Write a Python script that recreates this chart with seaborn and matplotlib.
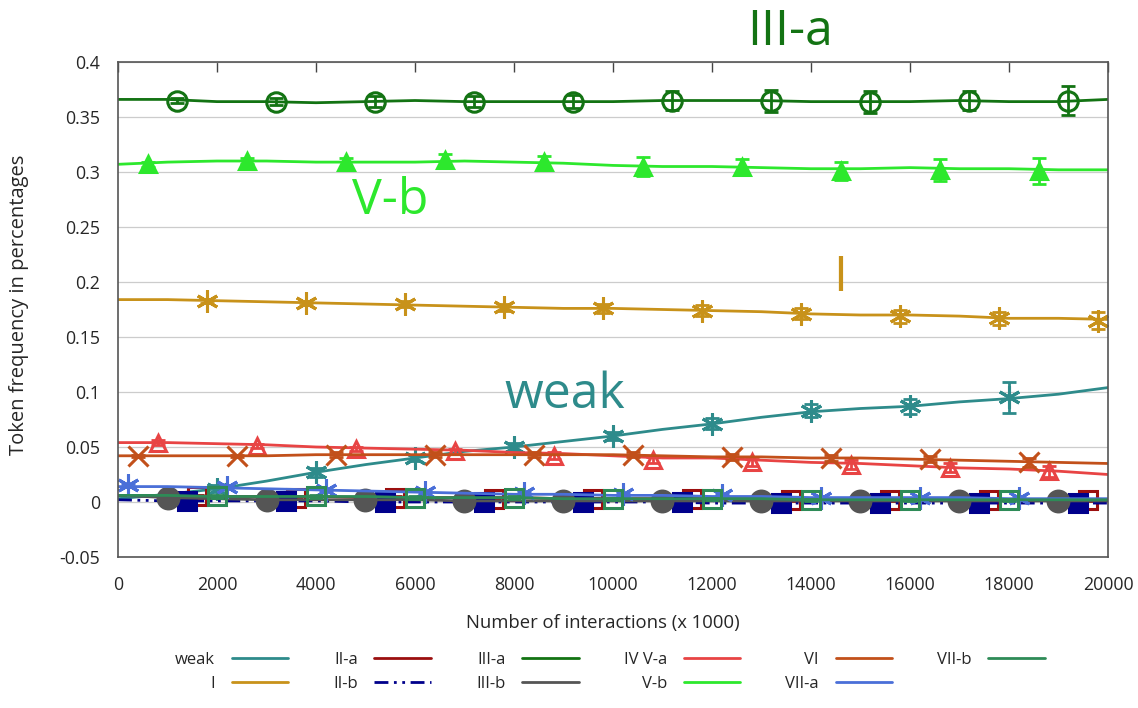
import matplotlib
matplotlib.use("Agg")
import matplotlib.pyplot as plt
from matplotlib.ticker import FuncFormatter, MultipleLocator
import numpy as np
import pandas as pd
import seaborn as sns

# x positions of the sampled curves (every 1000 interactions)
x_grid = list(range(0, 20001, 1000))

# --- curves (sampled) ---
weak_y = [0.003, 0.007, 0.012, 0.019, 0.027, 0.034, 0.040, 0.046, 0.050, 0.055, 0.060,
          0.066, 0.071, 0.077, 0.082, 0.085, 0.087, 0.091, 0.094, 0.098, 0.104]
I_y = [0.184, 0.184, 0.183, 0.182, 0.181, 0.180, 0.179, 0.178, 0.177, 0.176, 0.176,
       0.175, 0.174, 0.173, 0.171, 0.170, 0.170, 0.169, 0.167, 0.167, 0.166]
IIa_y = [0.006, 0.006, 0.005, 0.005, 0.005, 0.004, 0.004, 0.004, 0.004, 0.003, 0.003,
         0.003, 0.003, 0.003, 0.002, 0.002, 0.002, 0.002, 0.002, 0.002, 0.002]
IIb_y = [0.002, 0.001, 0.001, 0.001, 0.001, 0.000, 0.000, 0.000, 0.000, 0.000, 0.000,
         0.000, -0.001, -0.001, -0.001, -0.001, -0.001, -0.001, -0.001, -0.001, -0.001]
IIIa_y = [0.366, 0.366, 0.364, 0.364, 0.363, 0.364, 0.365, 0.364, 0.364, 0.364, 0.364,
          0.365, 0.365, 0.365, 0.364, 0.364, 0.364, 0.365, 0.364, 0.364, 0.366]
IIIb_y = [0.006, 0.004, 0.003, 0.002, 0.002, 0.002, 0.002, 0.001, 0.001, 0.001, 0.001,
          0.001, 0.001, 0.001, 0.001, 0.001, 0.001, 0.001, 0.001, 0.001, 0.001]
IVVa_y = [0.054, 0.054, 0.053, 0.052, 0.050, 0.049, 0.048, 0.047, 0.045, 0.044, 0.042,
          0.040, 0.040, 0.038, 0.036, 0.035, 0.033, 0.031, 0.030, 0.028, 0.025]
Vb_y = [0.307, 0.309, 0.310, 0.310, 0.309, 0.309, 0.309, 0.310, 0.309, 0.308, 0.306,
        0.305, 0.305, 0.304, 0.303, 0.303, 0.304, 0.303, 0.303, 0.302, 0.302]
VI_y = [0.042, 0.042, 0.042, 0.042, 0.043, 0.043, 0.043, 0.043, 0.043, 0.043, 0.043,
        0.042, 0.041, 0.041, 0.040, 0.040, 0.039, 0.038, 0.037, 0.036, 0.035]
VIIa_y = [0.014, 0.014, 0.013, 0.012, 0.011, 0.010, 0.009, 0.008, 0.007, 0.007, 0.006,
          0.006, 0.005, 0.005, 0.004, 0.004, 0.004, 0.004, 0.003, 0.003, 0.003]
VIIb_y = [0.006, 0.006, 0.005, 0.005, 0.005, 0.005, 0.004, 0.004, 0.004, 0.003, 0.003,
          0.003, 0.003, 0.003, 0.002, 0.002, 0.002, 0.002, 0.002, 0.002, 0.002]

# --- sampled points with error bars ---
weak_mx = [2000, 4000, 6000, 8000, 10000, 12000, 14000, 16000, 18000]
weak_my = [0.012, 0.027, 0.040, 0.050, 0.060, 0.071, 0.083, 0.087, 0.095]
weak_err = [0.003, 0.004, 0.003, 0.004, 0.004, 0.005, 0.006, 0.007, 0.014]

I_mx = [1800, 3800, 5800, 7800, 9800, 11800, 13800, 15800, 17800, 19800]
I_my = [0.183, 0.181, 0.180, 0.177, 0.176, 0.174, 0.171, 0.169, 0.167, 0.165]
I_err = [0.002, 0.002, 0.003, 0.003, 0.004, 0.005, 0.005, 0.006, 0.006, 0.008]

IIa_mx = [1600, 3600, 5600, 7600, 9600, 11600, 13600, 15600, 17600, 19600]
IIa_my = [0.005, 0.004, 0.004, 0.003, 0.003, 0.003, 0.002, 0.002, 0.002, 0.002]
IIa_err = [0.001] * 10

IIb_mx = [1400, 3400, 5400, 7400, 9400, 11400, 13400, 15400, 17400, 19400]
IIb_my = [0.001, 0.001, 0.000, 0.000, 0.000, 0.000, -0.001, -0.001, -0.001, -0.001]
IIb_err = [0.001] * 10

IIIa_mx = [1200, 3200, 5200, 7200, 9200, 11200, 13200, 15200, 17200, 19200]
IIIa_my = [0.365, 0.364, 0.364, 0.364, 0.364, 0.365, 0.365, 0.364, 0.365, 0.365]
IIIa_err = [0.002, 0.003, 0.005, 0.005, 0.006, 0.009, 0.010, 0.010, 0.009, 0.013]

IIIb_mx = [1000, 3000, 5000, 7000, 9000, 11000, 13000, 15000, 17000, 19000]
IIIb_my = [0.004, 0.002, 0.002, 0.001, 0.001, 0.001, 0.001, 0.001, 0.001, 0.001]
IIIb_err = [0.001] * 10

IVVa_mx = [800, 2800, 4800, 6800, 8800, 10800, 12800, 14800, 16800, 18800]
IVVa_my = [0.054, 0.051, 0.048, 0.046, 0.042, 0.038, 0.036, 0.034, 0.031, 0.028]
IVVa_err = [0.002, 0.002, 0.002, 0.002, 0.003, 0.003, 0.003, 0.004, 0.004, 0.005]

Vb_mx = [600, 2600, 4600, 6600, 8600, 10600, 12600, 14600, 16600, 18600]
Vb_my = [0.307, 0.310, 0.309, 0.311, 0.309, 0.305, 0.305, 0.301, 0.302, 0.301]
Vb_err = [0.002, 0.003, 0.004, 0.005, 0.006, 0.009, 0.007, 0.008, 0.010, 0.012]

VI_mx = [400, 2400, 4400, 6400, 8400, 10400, 12400, 14400, 16400, 18400]
VI_my = [0.042, 0.042, 0.043, 0.043, 0.043, 0.043, 0.041, 0.040, 0.039, 0.036]
VI_err = [0.001, 0.001, 0.002, 0.002, 0.002, 0.002, 0.003, 0.003, 0.003, 0.004]

VIIa_mx = [200, 2200, 4200, 6200, 8200, 10200, 12200, 14200, 16200, 18200]
VIIa_my = [0.015, 0.014, 0.011, 0.009, 0.008, 0.007, 0.006, 0.004, 0.004, 0.004]
VIIa_err = [0.001] * 10

VIIb_mx = [2000, 4000, 6000, 8000, 10000, 12000, 14000, 16000, 18000]
VIIb_my = [0.005, 0.005, 0.004, 0.004, 0.003, 0.003, 0.002, 0.002, 0.002]
VIIb_err = [0.001] * 9

sns.set_style("white")
plt.rcParams['font.family'] = ['Open Sans', 'DejaVu Sans']

fig = plt.figure(figsize=(11.38, 7.08), dpi=100)
ax = fig.add_axes([0.1037, 0.2133, 0.8699, 0.6991])

asterisk = (6, 2, 0)
series = [
    # label, line, marker x, marker y, err, color, marker, filled, size, linestyle
    ("weak", weak_y, weak_mx, weak_my, weak_err, "#2e8b8b", asterisk, True, 16, "-"),
    ("I", I_y, I_mx, I_my, I_err, "#c8921a", asterisk, True, 16, "-"),
    ("II-a", IIa_y, IIa_mx, IIa_my, IIa_err, "#9b0f0f", "s", False, 13, "-"),
    ("II-b", IIb_y, IIb_mx, IIb_my, IIb_err, "#00008b", "s", True, 13, (0, (5, 2, 1, 2, 1, 2))),
    ("III-a", IIIa_y, IIIa_mx, IIIa_my, IIIa_err, "#137313", "o", False, 14, "-"),
    ("III-b", IIIb_y, IIIb_mx, IIIb_my, IIIb_err, "#555555", "o", True, 15, "-"),
    ("IV V-a", IVVa_y, IVVa_mx, IVVa_my, IVVa_err, "#e84444", "^", False, 12, "-"),
    ("V-b", Vb_y, Vb_mx, Vb_my, Vb_err, "#2de82d", "^", True, 12, "-"),
    ("VI", VI_y, VI_mx, VI_my, VI_err, "#c2501a", "x", True, 14, "-"),
    ("VII-a", VIIa_y, VIIa_mx, VIIa_my, VIIa_err, "#4a6fd8", asterisk, True, 16, "-"),
    ("VII-b", VIIb_y, VIIb_mx, VIIb_my, VIIb_err, "#2e8b57", "s", False, 13, "-"),
]

for label, ys, mx, my, err, color, marker, filled, size, ls in series:
    df = pd.DataFrame({"x": x_grid, "y": ys})
    sns.lineplot(data=df, x="x", y="y", ax=ax, color=color, linewidth=2.0,
                 linestyle=ls, label=label)
    ax.errorbar(mx, my, yerr=err, fmt="none", ecolor=color, elinewidth=2.0,
                capsize=5, capthick=2.0)
    ax.plot(mx, my, linestyle="none", marker=marker, markersize=size,
            markeredgecolor=color, markeredgewidth=2.2,
            markerfacecolor=color if filled else "none")

ax.set_xlim(0, 20000)
ax.set_ylim(-0.05, 0.4)
ax.xaxis.set_major_locator(MultipleLocator(2000))
ax.yaxis.set_major_locator(MultipleLocator(0.05))
ax.yaxis.set_major_formatter(FuncFormatter(lambda v, p: "{:g}".format(round(v, 2))))
ax.yaxis.grid(True, color="#cccccc", linewidth=0.9)
ax.xaxis.grid(False)
ax.tick_params(axis="both", direction="in", length=7, width=1.0, color="#444444",
               labelsize=12.8)
ax.tick_params(axis="x", top=True, pad=14)
ax.tick_params(axis="y", pad=13)
for sp in ax.spines.values():
    sp.set_color("#555555")
    sp.set_linewidth(1.2)

ax.set_xlabel("Number of interactions (x 1000)", fontsize=13.3)
ax.set_ylabel("Token frequency in percentages", fontsize=14.5)
ax.xaxis.set_label_coords(0.49, -0.115)
ax.yaxis.set_label_coords(-0.09, 0.51)

# big series labels
ax.text(13575, 0.427, "III-a", color="#137313", fontsize=36, ha="center", va="center",
        clip_on=False)
ax.text(5500, 0.273, "V-b", color="#2de82d", fontsize=36, ha="center", va="center")
ax.text(14590, 0.203, "I", color="#c8921a", fontsize=36, ha="center", va="center")
ax.text(9030, 0.097, "weak", color="#2e8b8b", fontsize=36, ha="center", va="center")

handles, labels = ax.get_legend_handles_labels()
ax.legend(handles, labels, ncol=6, loc="upper center", bbox_to_anchor=(0.536, 0.1),
          bbox_transform=fig.transFigure, frameon=False, markerfirst=False,
          fontsize=12, handlelength=3.4, handletextpad=1.0, columnspacing=2.7,
          labelspacing=0.45)

fig.savefig("out.png", dpi=100)
